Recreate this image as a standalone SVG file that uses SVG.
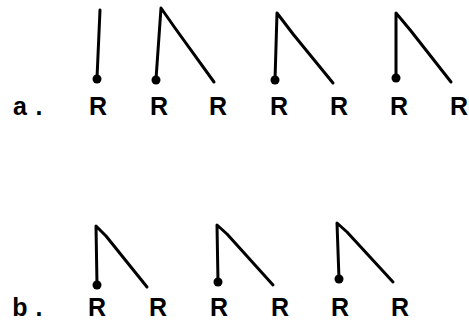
<svg xmlns="http://www.w3.org/2000/svg" width="469" height="322" viewBox="0 0 469 322">
<style>
.e{fill:none;stroke:#000;stroke-width:3;stroke-linecap:round;stroke-linejoin:round}
.d{fill:#000}
text{font-family:"Liberation Sans",Arial,sans-serif;font-weight:bold;font-size:25px;fill:#000;text-anchor:middle}
</style>
<rect width="469" height="322" fill="#fff"/>
<g id="connectors">
<path class="e" d="M100,10 L97,78"/>
<path class="e" d="M156,79 L161,8 L175,28 L214,82"/>
<path class="e" d="M275,80 L277,13 L293,34 L333,83"/>
<path class="e" d="M396,78 L396,13 L411,31 L451,82"/>
<path class="e" d="M97,285 L96,226 L106,236 L147,287"/>
<path class="e" d="M218,282 L217,225 L227,234 L273,285"/>
<path class="e" d="M339,279 L337,223 L347,232 L393,282"/>
</g>
<g id="row-a">
<text x="20" y="115">a</text><text x="39" y="115">.</text>
<g id="a1"><circle class="d" cx="97" cy="79" r="4.5"/><text x="98" y="115">R</text></g>
<g id="a2"><circle class="d" cx="156" cy="80" r="4.5"/><text x="159" y="115">R</text><text x="218" y="115">R</text></g>
<g id="a3"><circle class="d" cx="275" cy="80" r="4.5"/><text x="279" y="115">R</text><text x="339" y="115">R</text></g>
<g id="a4"><circle class="d" cx="396" cy="78" r="4.5"/><text x="399" y="115">R</text><text x="459" y="115">R</text></g>
</g>
<g id="row-b">
<text x="20" y="316">b</text><text x="39" y="316">.</text>
<g id="b1"><circle class="d" cx="97" cy="285" r="4.5"/><text x="97" y="316">R</text><text x="158" y="316">R</text></g>
<g id="b2"><circle class="d" cx="218" cy="282" r="4.5"/><text x="219" y="316">R</text><text x="280" y="316">R</text></g>
<g id="b3"><circle class="d" cx="339" cy="279" r="4.5"/><text x="340" y="316">R</text><text x="400" y="316">R</text></g>
</g>
</svg>
